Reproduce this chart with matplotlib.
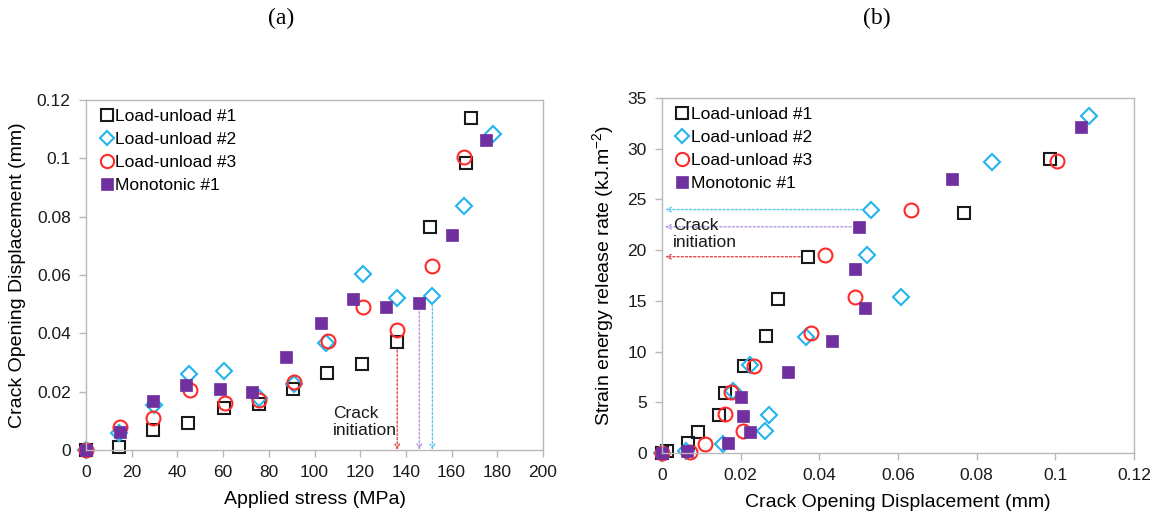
import matplotlib
matplotlib.use("Agg")
import matplotlib.pyplot as plt

plt.rcParams['font.family'] = ['Liberation Sans', 'DejaVu Sans']
plt.rcParams['mathtext.fontset'] = 'custom'
plt.rcParams['mathtext.rm'] = 'Liberation Sans'
plt.rcParams['mathtext.it'] = 'Liberation Sans'

# ---------------- Panel (a): COD vs applied stress ----------------
a_lu1_x = [0, 14.4, 29.2, 44.5, 60.5, 75.7, 90.7, 105.6, 120.6, 136.0, 150.5, 166.3, 168.5]
a_lu1_y = [0, 0.0011, 0.0067, 0.0093, 0.0145, 0.0158, 0.0208, 0.0265, 0.0294, 0.0371, 0.0766, 0.0983, 0.1137]
a_lu2_x = [0, 14.6, 29.9, 45.2, 60.4, 75.7, 91.0, 104.9, 121.4, 136.2, 151.6, 165.6, 178.2]
a_lu2_y = [0, 0.0057, 0.0154, 0.0261, 0.0272, 0.0179, 0.0225, 0.0366, 0.0603, 0.0520, 0.0529, 0.0837, 0.1082]
a_lu3_x = [0, 14.9, 29.5, 45.5, 60.8, 75.7, 91.2, 106.0, 121.4, 136.2, 151.6, 165.6]
a_lu3_y = [0, 0.0078, 0.0111, 0.0206, 0.0160, 0.0171, 0.0234, 0.0375, 0.0491, 0.0411, 0.0632, 0.1006]
a_mono_x = [0, 14.9, 29.5, 43.8, 58.6, 72.8, 87.4, 102.7, 116.7, 131.3, 145.9, 160.3, 175.0]
a_mono_y = [0, 0.0061, 0.0169, 0.0223, 0.0208, 0.0200, 0.0318, 0.0434, 0.0517, 0.0491, 0.0503, 0.0737, 0.1063]
a_init_x = [136.2, 145.9, 151.6]
a_init_y = [0.0371, 0.0503, 0.0529]
a_xticks = [0, 20, 40, 60, 80, 100, 120, 140, 160, 180, 200]
a_yticks = [0, 0.02, 0.04, 0.06, 0.08, 0.1, 0.12]
a_yticklabels = ['0', '0.02', '0.04', '0.06', '0.08', '0.1', '0.12']

# ---------------- Panel (b): G vs COD ----------------
b_lu1_x = [0, 0.0012, 0.0067, 0.0091, 0.0145, 0.0160, 0.0209, 0.0265, 0.0294, 0.0372, 0.0767, 0.0987]
b_lu1_y = [0, 0.23, 0.99, 2.07, 3.72, 5.92, 8.55, 11.58, 15.2, 19.35, 23.7, 28.95]
b_lu2_x = [0, 0.0060, 0.0156, 0.0262, 0.0273, 0.0181, 0.0224, 0.0366, 0.0521, 0.0608, 0.0531, 0.0839, 0.1085]
b_lu2_y = [0, 0.16, 0.92, 2.13, 3.71, 6.15, 8.65, 11.45, 19.5, 15.36, 24.0, 28.7, 33.2]
b_lu3_x = [0, 0.0071, 0.0109, 0.0207, 0.0160, 0.0176, 0.0235, 0.0378, 0.0415, 0.0491, 0.0633, 0.1004]
b_lu3_y = [0, 0.1, 0.88, 2.13, 3.85, 5.98, 8.62, 11.84, 19.5, 15.36, 24.0, 28.8]
b_mono_x = [0, 0.0063, 0.0169, 0.0224, 0.0207, 0.0200, 0.0320, 0.0433, 0.0515, 0.0491, 0.0502, 0.0737, 0.1066]
b_mono_y = [0, 0.16, 0.99, 2.04, 3.62, 5.5, 8.0, 11.0, 14.3, 18.1, 22.3, 27.05, 32.15]
b_init_x = [0.0372, 0.0502, 0.0531]
b_init_y = [19.35, 22.3, 24.0]
b_xticks = [0, 0.02, 0.04, 0.06, 0.08, 0.1, 0.12]
b_xticklabels = ['0', '0.02', '0.04', '0.06', '0.08', '0.1', '0.12']
b_yticks = [0, 5, 10, 15, 20, 25, 30, 35]

labels = ['Load-unload #1', 'Load-unload #2', 'Load-unload #3', 'Monotonic #1']
c_black = '#1a1a1a'
c_cyan = '#22b4ee'
c_red = '#ff2a2a'
c_purple = '#7030a0'
init_colors = ['#e04848', '#b49ad8', '#5cc6ee']
spine_c = '#b8b8b8'

fig = plt.figure(figsize=(11.57, 5.19), dpi=100)
ax1 = fig.add_axes([86/1157, 1-450/519, 457/1157, 350/519])
ax2 = fig.add_axes([662/1157, 1-453/519, 472/1157, 355/519])

def style(ax):
    for s in ax.spines.values():
        s.set_color(spine_c)
        s.set_linewidth(1.0)
    ax.tick_params(axis='both', which='both', color=spine_c, length=5, width=1,
                   labelsize=12.5, labelcolor='#1a1a1a', direction='out', pad=6)
    ax.tick_params(top=False, right=False)

def draw_series(ax, d, xoff):
    ms = 9
    ax.plot(d[0][0], d[0][1], ls='none', marker='s', ms=ms, mfc='none', mec=c_black, mew=1.5, label=labels[0], clip_on=False)
    ax.plot(d[1][0], d[1][1], ls='none', marker='D', ms=ms*0.85, mfc='none', mec=c_cyan, mew=1.5, label=labels[1], clip_on=False)
    ax.plot(d[2][0], d[2][1], ls='none', marker='o', ms=ms+1, mfc='none', mec=c_red, mew=1.5, label=labels[2], clip_on=False)
    ax.plot(d[3][0], d[3][1], ls='none', marker='s', ms=ms, mfc=c_purple, mec=c_purple, mew=0.5, label=labels[3], clip_on=False)
    ax.legend(loc='upper left', bbox_to_anchor=(xoff, 0.995), frameon=False, fontsize=12.5,
              handlelength=0.7, handletextpad=0.15, borderaxespad=0.1, borderpad=0.3,
              labelspacing=0.45, markerscale=0.95)

# Panel (a)
draw_series(ax1, [(a_lu1_x, a_lu1_y), (a_lu2_x, a_lu2_y), (a_lu3_x, a_lu3_y), (a_mono_x, a_mono_y)], 0.017)
ax1.set_xlim(0, 200)
ax1.set_ylim(0, 0.12)
ax1.set_xticks(a_xticks)
ax1.set_yticks(a_yticks)
ax1.set_yticklabels(a_yticklabels)
style(ax1)
ax1.set_xlabel('Applied stress (MPa)', fontsize=14, labelpad=8)
ax1.set_ylabel('Crack Opening Displacement (mm)', fontsize=14, labelpad=8)
for x, y, c in zip(a_init_x, a_init_y, init_colors):
    ax1.annotate('', xy=(x, 0), xytext=(x, y),
                 arrowprops=dict(arrowstyle='->', color=c, lw=1.0, linestyle=(0, (1.5, 1.5)),
                                 shrinkA=6, shrinkB=0, mutation_scale=8))
ax1.text(108, 0.0152, 'Crack\ninitiation', fontsize=12.5, color='#1a1a1a', va='top', ha='left',
         linespacing=1.2)

# Panel (b)
draw_series(ax2, [(b_lu1_x, b_lu1_y), (b_lu2_x, b_lu2_y), (b_lu3_x, b_lu3_y), (b_mono_x, b_mono_y)], 0.015)
ax2.set_xlim(0, 0.12)
ax2.set_ylim(0, 35)
ax2.set_xticks(b_xticks)
ax2.set_xticklabels(b_xticklabels)
ax2.set_yticks(b_yticks)
style(ax2)
ax2.set_xlabel('Crack Opening Displacement (mm)', fontsize=14, labelpad=8)
ax2.set_ylabel('Strain energy release rate (kJ.m$^{-2}$)', fontsize=14, labelpad=8)
for x, y, c in zip(b_init_x, b_init_y, init_colors):
    ax2.annotate('', xy=(0.0008, y), xytext=(x, y),
                 arrowprops=dict(arrowstyle='->', color=c, lw=1.0, linestyle=(0, (1.5, 1.5)),
                                 shrinkA=6, shrinkB=0, mutation_scale=8))
ax2.text(0.0028, 23.2, 'Crack\ninitiation', fontsize=12.5, color='#1a1a1a', va='top', ha='left',
         linespacing=1.2)

fig.text(281/1157, 1-18/519, '(a)', fontsize=17, family='Liberation Serif', ha='center', va='center')
fig.text(877/1157, 1-18/519, '(b)', fontsize=17, family='Liberation Serif', ha='center', va='center')

fig.savefig('out.png', dpi=100)
